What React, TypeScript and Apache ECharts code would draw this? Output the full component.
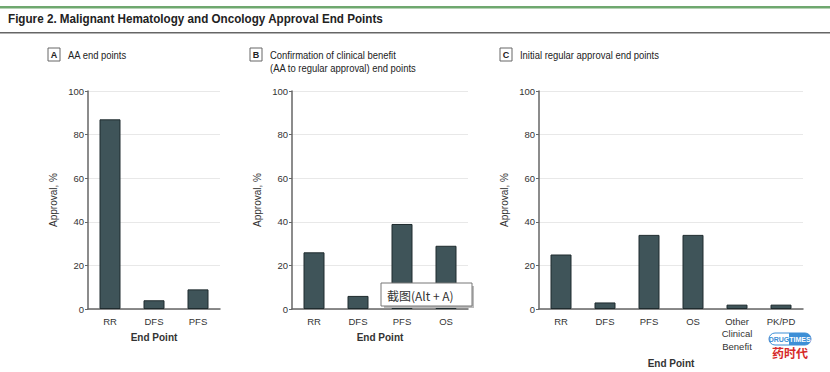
import React, { useEffect, useRef } from "react";
import * as echarts from "echarts";

const titleText = "Figure 2. Malignant Hematology and Oncology Approval End Points";
const yTicks = [0, 20, 40, 60, 80, 100];

const catsA = ["RR", "DFS", "PFS"];
const valsA = [87, 4, 9];

const catsB = ["RR", "DFS", "PFS", "OS"];
const valsB = [26, 6, 39, 29];

const catsC = ["RR", "DFS", "PFS", "OS", "Other\nClinical\nBenefit", "PK/PD"];
const valsC = [25, 3, 34, 34, 2, 2];

const panelLetters = ["A", "B", "C"];
const panelTitles = [
  "AA end points",
  "Confirmation of clinical benefit\n(AA to regular approval) end points",
  "Initial regular approval end points",
];

const FONT = "'Liberation Sans', Arial, sans-serif";
const BAR = "#3f5459";
const BAR_BORDER = "#1f2b2e";

export default function App() {
  const ref = useRef<HTMLDivElement>(null);
  useEffect(() => {
    if (!ref.current) return;
    const chart = echarts.init(ref.current, undefined, { renderer: "svg" });

    const grids = [
      { left: 88, top: 91, width: 44 * catsA.length, height: 218, outerBoundsMode: "none", containLabel: false },
      { left: 292, top: 91, width: 44 * catsB.length, height: 218, outerBoundsMode: "none", containLabel: false },
      { left: 539, top: 91, width: 44 * catsC.length, height: 218, outerBoundsMode: "none", containLabel: false },
    ];
    const cats = [catsA, catsB, catsC];
    const vals = [valsA, valsB, valsC];
    const xNameGaps = [23, 23, 49];

    const xAxes = cats.map((c, i) => ({
      type: "category",
      gridIndex: i,
      data: c,
      boundaryGap: true,
      name: "End Point",
      nameLocation: "middle",
      nameGap: xNameGaps[i],
      nameTextStyle: { fontFamily: FONT, fontSize: 10, fontWeight: "bold", color: "#333" },
      axisLine: { lineStyle: { color: "#666", width: 1.5 } },
      axisTick: { show: false },
      axisLabel: { fontFamily: FONT, fontSize: 9.5, color: "#333", margin: 6, lineHeight: 12.5, interval: 0 },
      splitLine: { show: false },
    }));

    const yAxes = cats.map((_, i) => ({
      type: "value",
      gridIndex: i,
      min: 0,
      max: 100,
      interval: 20,
      name: "Approval, %",
      nameLocation: "middle",
      nameGap: 30,
      nameTextStyle: { fontFamily: FONT, fontSize: 10, color: "#333" },
      axisLine: { show: true, lineStyle: { color: "#666", width: 1.5 } },
      axisTick: { show: true, length: 3, lineStyle: { color: "#666" } },
      axisLabel: {
        fontFamily: FONT,
        fontSize: 9.5,
        color: "#333",
        margin: 4,
        formatter: (v: number) => (yTicks.includes(v) ? String(v) : ""),
      },
      splitLine: { show: true, lineStyle: { color: "#e8e8e8", width: 1 } },
    }));

    const series = vals.map((v, i) => ({
      type: "bar",
      xAxisIndex: i,
      yAxisIndex: i,
      data: v,
      barWidth: 21,
      itemStyle: { color: BAR, borderColor: BAR_BORDER, borderWidth: 1 },
      silent: true,
    }));

    const letterX = [48, 250, 500];
    const graphics: any[] = [
      { type: "rect", shape: { x: 0, y: 6, width: 830, height: 2.5 }, style: { fill: "#6fa86f" } },
      { type: "rect", shape: { x: 0, y: 32, width: 830, height: 1.5 }, style: { fill: "#666" } },
      {
        type: "text",
        x: 8,
        y: 19,
        scaleX: 0.865,
        style: {
          text: titleText,
          fontFamily: FONT,
          fontSize: 13.5,
          fontWeight: "bold",
          fill: "#222",
          verticalAlign: "middle",
        },
      },
    ];
    panelLetters.forEach((l, i) => {
      graphics.push({
        type: "rect",
        shape: { x: letterX[i], y: 48, width: 12, height: 13 },
        style: { fill: "#fff", stroke: "#666", lineWidth: 1 },
      });
      graphics.push({
        type: "text",
        x: letterX[i] + 6,
        y: 55,
        style: {
          text: l,
          fontFamily: FONT,
          fontSize: 9,
          fontWeight: "bold",
          fill: "#222",
          align: "center",
          verticalAlign: "middle",
        },
      });
      graphics.push({
        type: "text",
        x: letterX[i] + 20,
        y: 49,
        scaleX: 0.9,
        style: {
          text: panelTitles[i],
          fontFamily: FONT,
          fontSize: 10.5,
          lineHeight: 13,
          fill: "#222",
          verticalAlign: "top",
        },
      });
    });

    // screenshot tooltip overlay
    graphics.push({
      type: "rect",
      shape: { x: 384, y: 286, width: 90, height: 22 },
      style: { fill: "#bbb" },
      z: 100,
    });
    graphics.push({
      type: "rect",
      shape: { x: 381, y: 283, width: 91, height: 23 },
      style: { fill: "#fff", stroke: "#777", lineWidth: 1 },
      z: 101,
    });
    graphics.push({
      type: "text",
      x: 387,
      y: 295,
      z: 102,
      style: {
        text: "截图(Alt + A)",
        fontFamily: "'Noto Sans CJK SC', sans-serif",
        fontSize: 12,
        fill: "#333",
        verticalAlign: "middle",
      },
    });

    // watermark
    graphics.push({
      type: "rect",
      shape: { x: 769, y: 333, width: 42, height: 12, r: 6 },
      style: { fill: "#fff", stroke: "#3d8fd6", lineWidth: 1 },
      z: 100,
    });
    graphics.push({
      type: "rect",
      shape: { x: 789, y: 333, width: 22, height: 12, r: [0, 6, 6, 0] },
      style: { fill: "#3d8fd6" },
      z: 101,
    });
    graphics.push({
      type: "text",
      x: 779,
      y: 339,
      z: 102,
      style: { text: "DRUG", fontFamily: FONT, fontSize: 7, fontWeight: "bold", fill: "#3d8fd6", align: "center", verticalAlign: "middle" },
    });
    graphics.push({
      type: "text",
      x: 800,
      y: 339,
      z: 102,
      style: { text: "TIMES", fontFamily: FONT, fontSize: 7, fontWeight: "bold", fill: "#fff", align: "center", verticalAlign: "middle" },
    });
    graphics.push({
      type: "text",
      x: 790,
      y: 352,
      z: 102,
      style: {
        text: "药时代",
        fontFamily: "'Noto Sans CJK SC', sans-serif",
        fontSize: 12,
        fontWeight: "bold",
        fill: "#d62a2a",
        align: "center",
        verticalAlign: "middle",
      },
    });

    chart.setOption({
      animation: false,
      backgroundColor: "#fff",
      grid: grids,
      xAxis: xAxes,
      yAxis: yAxes,
      series,
      graphic: { elements: graphics },
    });
    return () => chart.dispose();
  }, []);

  return (
    <div
      ref={ref}
      style={{ position: "fixed", left: 0, top: 0, width: 830, height: 372 }}
    />
  );
}
